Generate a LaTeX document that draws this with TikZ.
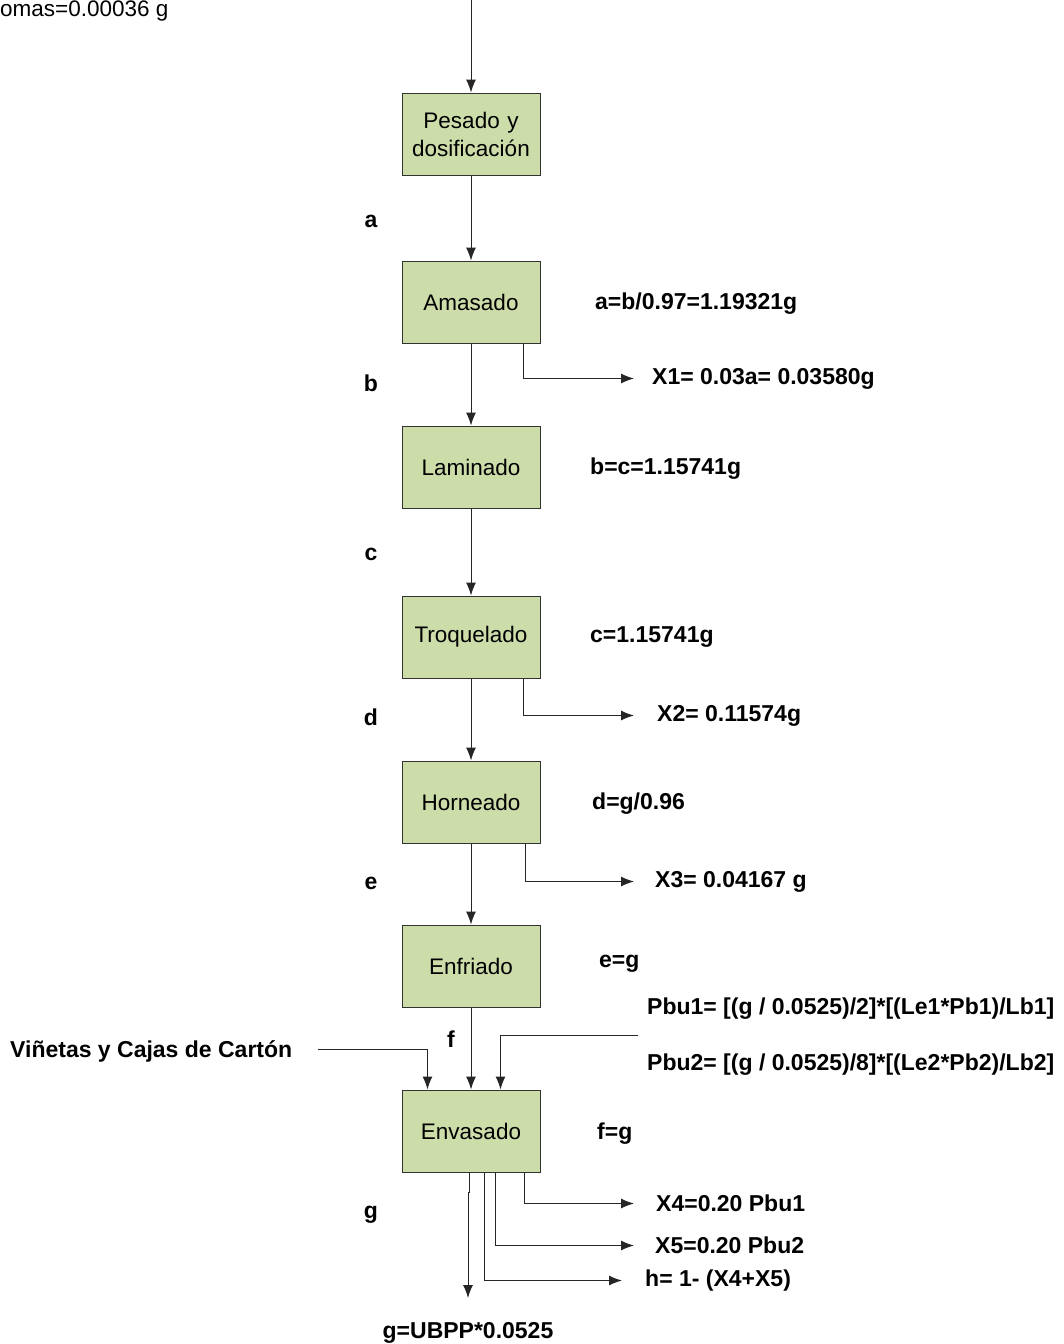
\documentclass[tikz,border=0pt]{standalone}
\usepackage{fontspec}
\setmainfont{Liberation Sans}
\usepackage{tikz}
\usetikzlibrary{shapes,arrows,arrows.meta,positioning,calc,fit}
\definecolor{boxgreen}{RGB}{204,221,170}
\tikzstyle{proc} = [rectangle, draw=black!80, fill=boxgreen, line width=1pt, minimum width=138pt, minimum height=82pt, text width=132pt, align=center, inner sep=0pt, font=\fontsize{22.5}{28}\selectfont]
\tikzstyle{lbl} = [inner sep=0pt, yshift=-2.5pt, font=\fontsize{23}{28}\selectfont\bfseries]
\tikzstyle{line} = [draw, black!85, line width=1pt, -{Latex[length=13pt,width=10pt]}]

\begin{document}
\begin{tikzpicture}[x=1pt, y=-1pt]
		\useasboundingbox (0,0) rectangle (1063,1344);
		% Process column
		\node[proc](ps) at (471,134) {Pesado y\\dosificación};
		\node[proc, below of = ps, node distance = 168pt](am){Amasado};
		\node[proc, below of = am, node distance = 165pt](lam){Laminado};
		\node[proc, below of = lam, node distance = 170pt](tro){Troquelado};
		\node[proc, below of = tro, node distance = 165pt](hor){Horneado};
		\node[proc, below of = hor, node distance = 164pt](enf){Enfriado};
		\node[proc, below of = enf, node distance = 165pt](env){Envasado};
		
		% Stream letters
		\node[lbl](la) at (371,219) {a};
		\node[lbl](lb) at (371,381) {b};
		\node[lbl](lc) at (371,552) {c};
		\node[lbl](ld) at (371,715) {d};
		\node[lbl](le) at (371,881) {e};
		\node[lbl](lf) at (451,1037) {f};
		\node[lbl](lg) at (371,1212) {g};
		
		% Balances
		\node[lbl, anchor=west](ba) at (595,301) {a=b/0.97=1.19321g};
		\node[lbl, anchor=west](bb) at (590,466) {b=c=1.15741g};
		\node[lbl, anchor=west](bc) at (590,635) {c=1.15741g};
		\node[lbl, anchor=west](bd) at (592,801) {d=g/0.96};
		\node[lbl, anchor=west](be) at (599,961) {e=g};
		\node[lbl, anchor=west](bf) at (597,1131) {f=g};
		\node[lbl](bg) at (468,1330) {g=UBPP*0.0525};
		\node[font=\fontsize{22.5}{28}\selectfont, inner sep=0pt, anchor=west](arom) at (0,11) {omas=0.00036 g};
		
		% Losses
		\node[lbl, anchor=west](x1) at (652,376) {X1= 0.03a= 0.03580g};
		\node[lbl, anchor=west](x2) at (657,713) {X2= 0.11574g};
		\node[lbl, anchor=west](x3) at (655,879) {X3= 0.04167 g};
		\node[lbl, anchor=west](x4) at (656,1201) {X4=0.20 Pbu1};
		\node[lbl, anchor=west](x5) at (655,1243) {X5=0.20 Pbu2};
		\node[lbl, anchor=west](xh) at (645,1278) {h= 1- (X4+X5)};
		
		% Packaging inputs
		\node[lbl, anchor=west](vin) at (10,1049) {Viñetas y Cajas de Cartón};
		\node[lbl, anchor=west](pbu1) at (647,1006) {Pbu1= [(g / 0.0525)/2]*[(Le1*Pb1)/Lb1]};
		\node[lbl, anchor=west](pbu2) at (647,1062) {Pbu2= [(g / 0.0525)/8]*[(Le2*Pb2)/Lb2]};
		
		% empty nodes for input and output flow arrows
		\coordinate (feed) at (471,0);
		\coordinate (vinin) at (318,1049);
		\coordinate (pbuin) at (638,1035);
		\coordinate (prod) at (468,1298);
		
		% Paths
		\path [line] (feed) -- (ps);
		\path [line] (ps) -- (am);
		\path [line] (am) -- (lam);
		\path [line] (lam) -- (tro);
		\path [line] (tro) -- (hor);
		\path [line] (hor) -- (enf);
		\path [line] (enf) -- (env);
		\path [line] ($(am.south east)+(-17,0)$) |- ([xshift=-18pt]x1.west);
		\path [line] ($(tro.south east)+(-17,0)$) |- ([xshift=-23pt]x2.west);
		\path [line] ($(hor.south east)+(-15,0)$) |- ([xshift=-21pt]x3.west);
		\path [line] (vinin) -| ($(env.north west)+(26,0)$);
		\path [line] (pbuin) -| ($(env.north west)+(99,0)$);
		\path [line] ($(env.south west)+(68,0)$) -- ++(0,20) -| (prod);
		\path [line] ($(env.south east)+(-16,0)$) |- ([xshift=-22pt]x4.west);
		\path [line] ($(env.south west)+(94,0)$) |- ([xshift=-21pt]x5.west);
		\path [line] ($(env.south west)+(83,0)$) |- ([xshift=-23pt]xh.west);
		
	\end{tikzpicture}
\end{document}
